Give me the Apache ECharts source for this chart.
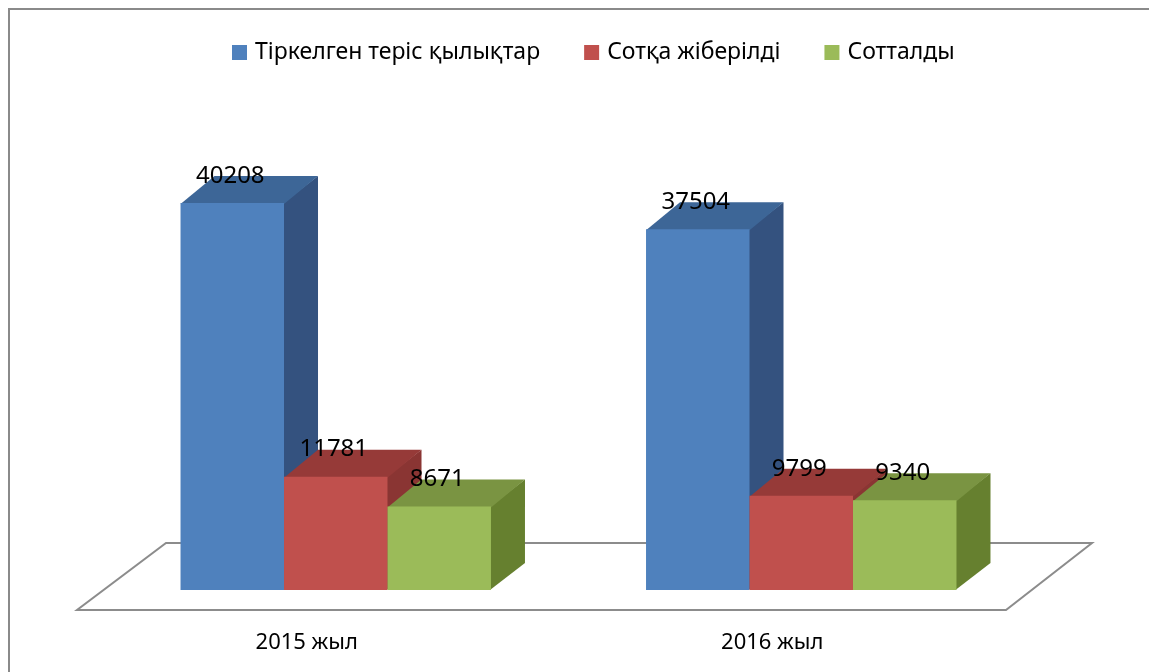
<!DOCTYPE html>
<html>
<head>
<meta charset="utf-8">
<script src="https://cdn.jsdelivr.net/npm/echarts@6/dist/echarts.min.js"></script>
<style>
html, body { margin: 0; padding: 0; background: #fff; }
#main { width: 1149px; height: 672px; }
</style>
</head>
<body>
<div id="main"></div>
<script>
var categories = ['2015 жыл', '2016 жыл'];
var seriesNames = ['Тіркелген теріс қылықтар', 'Сотқа жіберілді', 'Сотталды'];
var registered = [40208, 37504];
var toCourt = [11781, 9799];
var convicted = [8671, 9340];

// front / top / side shades for each series
var shades = [
    ['#4f81bd', '#3d6697', '#34527f'],
    ['#c0504d', '#963a38', '#8a3533'],
    ['#9bbb59', '#7a9442', '#66802f']
];

var BAR_FRAC = 0.2223;
var DX = 34, DY = -27;
var FONT = 'Noto Sans';

function bar3d(offsetIdx, colors) {
    return function (params, api) {
        var top = api.coord([api.value(0), api.value(1)]);
        var base = api.coord([api.value(0), 0]);
        var band = api.size([1, 0])[0];
        var w = band * BAR_FRAC;
        var cx = top[0] + offsetIdx * w;
        var x0 = cx - w / 2, x1 = cx + w / 2;
        var ty = top[1], by = base[1];
        return {
            type: 'group',
            children: [
                {
                    type: 'polygon',
                    shape: { points: [[x1 - 1, ty], [x1 + DX, ty + DY], [x1 + DX, by + DY], [x1 - 1, by]] },
                    style: { fill: colors[2] }
                },
                {
                    type: 'polygon',
                    shape: { points: [[x0, ty + 1], [x1, ty + 1], [x1 + DX, ty + DY], [x0 + DX, ty + DY]] },
                    style: { fill: colors[1] }
                },
                {
                    type: 'rect',
                    shape: { x: x0, y: ty, width: w, height: by - ty },
                    style: { fill: colors[0] }
                },
                {
                    type: 'text',
                    x: cx - 2,
                    y: ty - 27,
                    style: {
                        text: String(api.value(1)),
                        fill: '#000',
                        font: '24px "' + FONT + '"',
                        align: 'center',
                        verticalAlign: 'middle'
                    }
                }
            ]
        };
    };
}

function makeSeries(name, values, idx) {
    return {
        name: name,
        type: 'custom',
        renderItem: bar3d(idx - 1, shades[idx]),
        itemStyle: { color: shades[idx][0] },
        data: values.map(function (v, i) { return [i, v]; }),
        z: 3 + idx
    };
}

var chart = echarts.init(document.getElementById('main'));
chart.setOption({
    backgroundColor: '#fff',
    animation: false,
    graphic: [
        {
            type: 'rect',
            z: 0,
            shape: { x: 9, y: 9, width: 1160, height: 700 },
            style: { fill: 'none', stroke: '#8a8a8a', lineWidth: 2 }
        },
        {
            type: 'polygon',
            z: 1,
            shape: { points: [[166, 543], [1092, 543], [1006, 610], [77, 610]] },
            style: { fill: '#fff', stroke: '#8c8c8c', lineWidth: 2 }
        }
    ],
    legend: {
        top: 36,
        left: 227,
        itemWidth: 15,
        itemHeight: 15,
        itemGap: 44,
        icon: 'rect',
        textStyle: { fontFamily: FONT, fontSize: 23, color: '#000', padding: [0, 0, 0, 3] },
        data: seriesNames
    },
    grid: { left: 103, right: 115, top: 157, bottom: 82 },
    xAxis: {
        type: 'category',
        data: categories,
        axisLine: { show: false },
        axisTick: { show: false },
        splitLine: { show: false },
        axisLabel: {
            margin: 42,
            padding: [0, 58, 0, 0],
            fontFamily: FONT,
            fontSize: 22,
            color: '#000'
        }
    },
    yAxis: {
        type: 'value',
        min: 0,
        max: 45000,
        show: false
    },
    series: [
        makeSeries(seriesNames[0], registered, 0),
        makeSeries(seriesNames[1], toCourt, 1),
        makeSeries(seriesNames[2], convicted, 2)
    ]
});
</script>
</body>
</html>
